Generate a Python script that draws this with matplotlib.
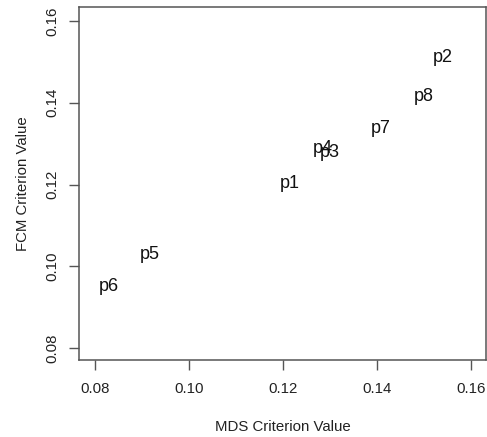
import matplotlib
matplotlib.use('Agg')
import matplotlib.pyplot as plt

plt.rcParams['font.family'] = ['Liberation Sans', 'DejaVu Sans']

names = ['p1', 'p2', 'p3', 'p4', 'p5', 'p6', 'p7', 'p8']
mds = [0.1215, 0.1540, 0.1300, 0.1285, 0.0917, 0.0830, 0.1409, 0.1500]
fcm = [0.1202, 0.1510, 0.1278, 0.1288, 0.1029, 0.0951, 0.1337, 0.1415]

xticks = [0.08, 0.10, 0.12, 0.14, 0.16]
yticks = [0.08, 0.10, 0.12, 0.14, 0.16]

fig = plt.figure(figsize=(4.87, 4.37), dpi=100)
ax = fig.add_axes([0.162, 0.176, 0.836, 0.808])

for n, x, y in zip(names, mds, fcm):
    ax.text(x, y, n, ha='center', va='center', fontsize=13, color='#111111')

ax.set_xlim(0.0766, 0.1632)
ax.set_ylim(0.0771, 0.1634)
ax.set_xticks(xticks)
ax.set_yticks(yticks)
ax.set_xticklabels(['%.2f' % v for v in xticks])
ax.set_yticklabels(['%.2f' % v for v in yticks], rotation=90, va='center')

for s in ax.spines.values():
    s.set_color('#555555')
    s.set_linewidth(1.1)
ax.tick_params(direction='out', length=7, width=1.0, color='#555555',
               labelsize=10.8, labelcolor='#222222')
ax.tick_params(axis='x', pad=9)
ax.tick_params(axis='y', pad=7)

ax.set_xlabel('MDS Criterion Value', fontsize=10.8, color='#222222', labelpad=17)
ax.set_ylabel('FCM Criterion Value', fontsize=10.8, color='#222222', labelpad=11)

fig.savefig('out.png', dpi=100)
